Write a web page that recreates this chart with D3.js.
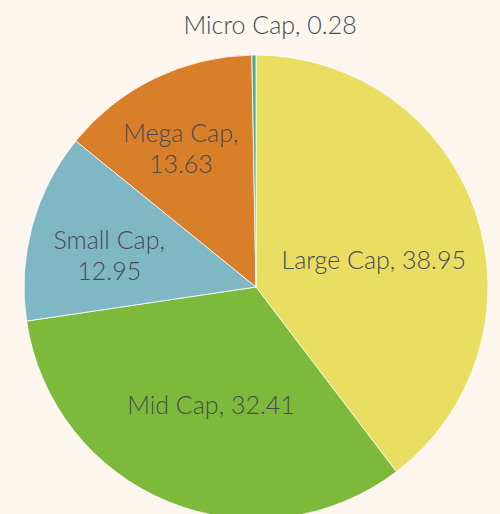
<!DOCTYPE html>
<html lang="en">
 <head>
 <meta http-equiv="Content-Type" content="text/html; charset=UTF-8">
        <title>Market cap split</title>
        <script type="text/javascript" src="https://unpkg.com/d3@7/dist/d3.min.js"></script>
        <style>
          body { margin: 0; background: #fdf6ee; }
          text { font-family: "Lato", "Open Sans", sans-serif; font-weight: 300; fill: #454b55; }
        </style>
 </head>

 <body>
        <script type="text/javascript">

          // data, clockwise from 12 o'clock
          var categories = ["Large Cap", "Mid Cap", "Small Cap", "Mega Cap", "Micro Cap"];
          var values = [38.95, 32.41, 12.95, 13.63, 0.28];
          var colours = ["#e9dd62", "#7db93a", "#80b7c4", "#d97f29", "#4fa98a"];

          var width = 500, height = 514;
          var cx = 256, cy = 287, radius = 232;

          // label placement: [angle shift in degrees, radius factor, split into two lines]
          var labelTweak = [[6, 0.52, false], [-1.3, 0.545, false], [-2, 0.65, true], [-2, 0.69, true], [3.6, 1.13, false]];

          var svg = d3.select("body")
                      .append("svg")
                      .attr("width", width)
                      .attr("height", height)
                      .append("g")
                      .attr("transform", "translate(" + cx + "," + cy + ")");

          var rows = categories.map((c, i) => ({ name: c, value: values[i], colour: colours[i], i: i }));

          var pie = d3.pie().sort(null).value((d) => d.value);
          var arc = d3.arc().innerRadius(0).outerRadius(radius);
          var arcs = pie(rows);

          svg.selectAll("path")
             .data(arcs)
             .enter()
             .append("path")
             .attr("d", arc)
             .attr("fill", (d) => d.data.colour)
             .attr("stroke", "#ffffff")
             .attr("stroke-width", 0.8);

          var labels = svg.selectAll("text.lbl")
                          .data(arcs)
                          .enter()
                          .append("text")
                          .attr("class", "lbl")
                          .attr("text-anchor", "middle")
                          .attr("font-size", 25)
                          .attr("transform", function (d) {
                            var t = labelTweak[d.data.i];
                            var a = (d.startAngle + d.endAngle) / 2 + t[0] * Math.PI / 180;
                            var k = radius * t[1];
                            return "translate(" + (Math.sin(a) * k) + "," + (-Math.cos(a) * k) + ")";
                          });

          labels.each(function (d) {
            var t = labelTweak[d.data.i];
            var el = d3.select(this);
            if (t[2]) {
              el.append("tspan").attr("x", 0).attr("dy", "-0.15em").text(d.data.name + ",");
              el.append("tspan").attr("x", 0).attr("dy", "1.25em").text(d.data.value.toFixed(2));
            } else {
              el.append("tspan").attr("x", 0).attr("dy", "0.35em").text(d.data.name + ", " + d.data.value.toFixed(2));
            }
          });

        </script>
    </body>
</html>
